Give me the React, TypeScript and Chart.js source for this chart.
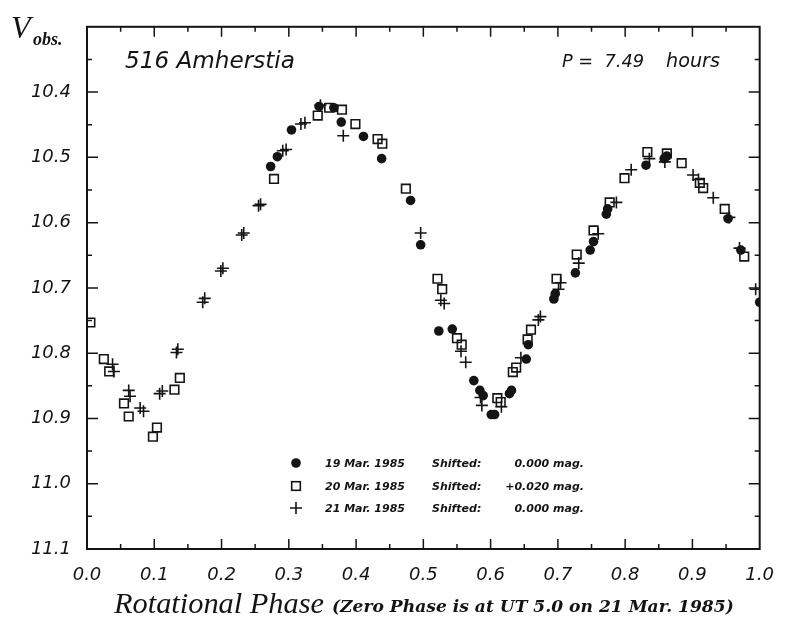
import React, { useEffect, useRef } from 'react';
import { Chart, registerables } from 'chart.js';
Chart.register(...registerables);

// ---- data ----
const xTicks = [0, 0.1, 0.2, 0.3, 0.4, 0.5, 0.6, 0.7, 0.8, 0.9, 1.0];
const yTicks = [10.4, 10.5, 10.6, 10.7, 10.8, 10.9, 11.0, 11.1];

// 19 Mar. 1985 (filled circles)
const mar19Phase = [0.273, 0.283, 0.304, 0.345, 0.367, 0.378, 0.411, 0.438, 0.481, 0.496, 0.523, 0.543, 0.575, 0.584, 0.589, 0.601, 0.606, 0.628, 0.631, 0.653, 0.656, 0.694, 0.696, 0.726, 0.748, 0.753, 0.772, 0.774, 0.831, 0.858, 0.862, 0.953, 0.972, 1.0];
const mar19Mag = [10.514, 10.499, 10.458, 10.422, 10.424, 10.446, 10.468, 10.502, 10.566, 10.634, 10.766, 10.763, 10.842, 10.857, 10.865, 10.894, 10.894, 10.862, 10.857, 10.809, 10.787, 10.717, 10.709, 10.677, 10.642, 10.629, 10.587, 10.579, 10.512, 10.502, 10.498, 10.594, 10.642, 10.722];

// 20 Mar. 1985 (open squares, shifted +0.020 mag)
const mar20Phase = [0.005, 0.025, 0.033, 0.055, 0.062, 0.098, 0.104, 0.130, 0.138, 0.278, 0.343, 0.360, 0.379, 0.399, 0.432, 0.439, 0.474, 0.521, 0.528, 0.550, 0.557, 0.610, 0.615, 0.633, 0.638, 0.655, 0.660, 0.698, 0.728, 0.753, 0.777, 0.799, 0.833, 0.862, 0.884, 0.911, 0.916, 0.948, 0.977];
const mar20Mag = [10.753, 10.809, 10.828, 10.877, 10.897, 10.928, 10.914, 10.856, 10.838, 10.533, 10.436, 10.424, 10.427, 10.449, 10.472, 10.479, 10.548, 10.686, 10.702, 10.777, 10.787, 10.869, 10.875, 10.829, 10.822, 10.779, 10.764, 10.686, 10.649, 10.612, 10.569, 10.532, 10.492, 10.494, 10.509, 10.539, 10.547, 10.579, 10.652];

// 21 Mar. 1985 (plus signs)
const mar21Phase = [0.038, 0.040, 0.062, 0.064, 0.079, 0.084, 0.108, 0.112, 0.133, 0.135, 0.172, 0.175, 0.199, 0.202, 0.230, 0.233, 0.255, 0.258, 0.291, 0.296, 0.318, 0.324, 0.347, 0.381, 0.496, 0.526, 0.531, 0.556, 0.563, 0.585, 0.587, 0.616, 0.645, 0.671, 0.674, 0.701, 0.704, 0.731, 0.760, 0.787, 0.809, 0.836, 0.859, 0.901, 0.909, 0.931, 0.955, 0.970, 0.994];
const mar21Mag = [10.817, 10.828, 10.857, 10.866, 10.884, 10.889, 10.862, 10.858, 10.799, 10.794, 10.722, 10.716, 10.674, 10.670, 10.619, 10.616, 10.574, 10.572, 10.490, 10.488, 10.449, 10.447, 10.420, 10.467, 10.616, 10.719, 10.724, 10.797, 10.814, 10.868, 10.880, 10.882, 10.807, 10.749, 10.744, 10.702, 10.692, 10.662, 10.617, 10.569, 10.519, 10.502, 10.507, 10.527, 10.534, 10.562, 10.592, 10.639, 10.702];

const legendRows = [
  { date: '19 Mar. 1985', label: 'Shifted:', shift: '0.000 mag.' },
  { date: '20 Mar. 1985', label: 'Shifted:', shift: '+0.020 mag.' },
  { date: '21 Mar. 1985', label: 'Shifted:', shift: '0.000 mag.' },
];

const INK = '#141414';

function pts(xs: number[], ys: number[]) {
  return xs.map((x, i) => ({ x, y: ys[i] }));
}

function fitFont(ctx: CanvasRenderingContext2D, text: string, width: number, tmpl: (s: number) => string) {
  ctx.font = tmpl(20);
  const w = ctx.measureText(text).width;
  const s = (20 * width) / w;
  ctx.font = tmpl(s);
}

function drawMarker(ctx: CanvasRenderingContext2D, kind: number, x: number, y: number) {
  ctx.save();
  ctx.strokeStyle = INK;
  ctx.fillStyle = INK;
  if (kind === 0) {
    ctx.beginPath();
    ctx.arc(x, y, 4.8, 0, Math.PI * 2);
    ctx.fill();
  } else if (kind === 1) {
    ctx.lineWidth = 1.6;
    ctx.strokeRect(x - 4.3, y - 4.3, 8.6, 8.6);
  } else {
    ctx.lineWidth = 1.6;
    ctx.beginPath();
    ctx.moveTo(x - 6, y);
    ctx.lineTo(x + 6, y);
    ctx.moveTo(x, y - 6);
    ctx.lineTo(x, y + 6);
    ctx.stroke();
  }
  ctx.restore();
}

const decorPlugin = {
  id: 'decor',
  afterDraw(chart: any) {
    const ctx: CanvasRenderingContext2D = chart.ctx;
    const { left, right, top, bottom } = chart.chartArea;
    const xs = chart.scales.x;
    const ys = chart.scales.y;
    ctx.save();
    // frame
    ctx.strokeStyle = INK;
    ctx.lineWidth = 2;
    ctx.strokeRect(left, top, right - left, bottom - top);
    // inward ticks
    ctx.lineWidth = 1.5;
    ctx.beginPath();
    for (let i = 1; i < 20; i++) {
      const v = i * 0.05;
      const px = xs.getPixelForValue(v);
      const len = i % 2 === 0 ? 10 : 5;
      ctx.moveTo(px, bottom);
      ctx.lineTo(px, bottom - len);
      ctx.moveTo(px, top);
      ctx.lineTo(px, top + len);
    }
    for (let i = 1; i < 16; i++) {
      const v = 10.3 + i * 0.05;
      const py = ys.getPixelForValue(v);
      const len = i % 2 === 0 ? 11 : 5;
      ctx.moveTo(left, py);
      ctx.lineTo(left + len, py);
      ctx.moveTo(right, py);
      ctx.lineTo(right - len, py);
    }
    ctx.stroke();

    ctx.fillStyle = INK;
    ctx.textBaseline = 'alphabetic';
    ctx.textAlign = 'left';
    // y axis label
    ctx.font = 'italic 32px "Liberation Serif"';
    ctx.fillText('V', 11, 38);
    ctx.font = 'italic bold 18px "Liberation Serif"';
    ctx.fillText('obs.', 33, 45);

    // title inside
    fitFont(ctx, '516 Amherstia', 170, (s) => `italic ${s}px "DejaVu Sans"`);
    ctx.fillText('516 Amherstia', 125, 68);
    fitFont(ctx, 'P =  7.49', 82, (s) => `italic ${s}px "DejaVu Sans"`);
    ctx.fillText('P =  7.49', 562, 67);
    fitFont(ctx, 'hours', 54, (s) => `italic ${s}px "DejaVu Sans"`);
    ctx.fillText('hours', 666, 67);

    // legend
    const rowY = [463, 486, 508];
    legendRows.forEach((r, i) => {
      drawMarker(ctx, i, 296, rowY[i]);
      ctx.font = 'italic bold 11px "DejaVu Sans"';
      ctx.fillText(r.date, 325, rowY[i] + 4);
      ctx.fillText(r.label, 432, rowY[i] + 4);
      ctx.textAlign = 'right';
      ctx.fillText(r.shift, 584, rowY[i] + 4);
      ctx.textAlign = 'left';
    });

    // x axis title
    const t1 = 'Rotational Phase';
    fitFont(ctx, t1, 210, (s) => `italic ${s}px "Liberation Serif"`);
    ctx.fillText(t1, 114, 613);
    const t2 = '(Zero Phase is at UT 5.0 on 21 Mar. 1985)';
    fitFont(ctx, t2, 402, (s) => `italic bold ${s}px "DejaVu Serif"`);
    ctx.fillText(t2, 332, 612);
    ctx.restore();
  },
};

export default function App() {
  const ref = useRef<HTMLCanvasElement | null>(null);
  useEffect(() => {
    if (!ref.current) return;
    const tickFont = { family: '"DejaVu Sans"', size: 18, style: 'italic' as const };
    const chart = new Chart(ref.current, {
      type: 'scatter',
      data: {
        datasets: [
          {
            label: '19 Mar. 1985',
            data: pts(mar19Phase, mar19Mag),
            pointStyle: 'circle',
            pointRadius: 4.8,
            backgroundColor: INK,
            borderColor: INK,
            borderWidth: 0,
          },
          {
            label: '20 Mar. 1985',
            data: pts(mar20Phase, mar20Mag),
            pointStyle: 'rect',
            pointRadius: 6.1,
            backgroundColor: 'rgba(255,255,255,0)',
            borderColor: INK,
            borderWidth: 1.6,
          },
          {
            label: '21 Mar. 1985',
            data: pts(mar21Phase, mar21Mag),
            pointStyle: 'cross',
            pointRadius: 6,
            backgroundColor: INK,
            borderColor: INK,
            borderWidth: 1.6,
          },
        ],
      },
      options: {
        responsive: false,
        animation: false,
        events: [],
        layout: { padding: { top: 15, right: 21, left: 0, bottom: 0 } },
        plugins: { legend: { display: false }, tooltip: { enabled: false } },
        scales: {
          x: {
            type: 'linear',
            min: 0,
            max: 1,
            afterBuildTicks: (s: any) => {
              s.ticks = xTicks.map((v) => ({ value: v }));
            },
            afterFit: (s: any) => {
              s.height = 68;
            },
            ticks: {
              autoSkip: false,
              maxRotation: 0,
              padding: 16,
              color: INK,
              font: tickFont,
              callback: (v: any) => Number(v).toFixed(1),
            },
            grid: { display: false, drawTicks: false },
            border: { display: false },
          },
          y: {
            type: 'linear',
            reverse: true,
            min: 10.3,
            max: 11.1,
            afterBuildTicks: (s: any) => {
              s.ticks = yTicks.map((v) => ({ value: v }));
            },
            afterFit: (s: any) => {
              s.width = 87;
            },
            ticks: {
              autoSkip: false,
              padding: 16,
              color: INK,
              font: tickFont,
              callback: (v: any) => Number(v).toFixed(1),
            },
            grid: { display: false, drawTicks: false },
            border: { display: false },
          },
        },
      },
      plugins: [decorPlugin],
    });
    return () => chart.destroy();
  }, []);
  return (
    <div style={{ position: 'fixed', left: 0, top: 0, width: 790, height: 617, background: '#fff' }}>
      <canvas ref={ref} width={790} height={617} style={{ display: 'block' }} />
    </div>
  );
}
